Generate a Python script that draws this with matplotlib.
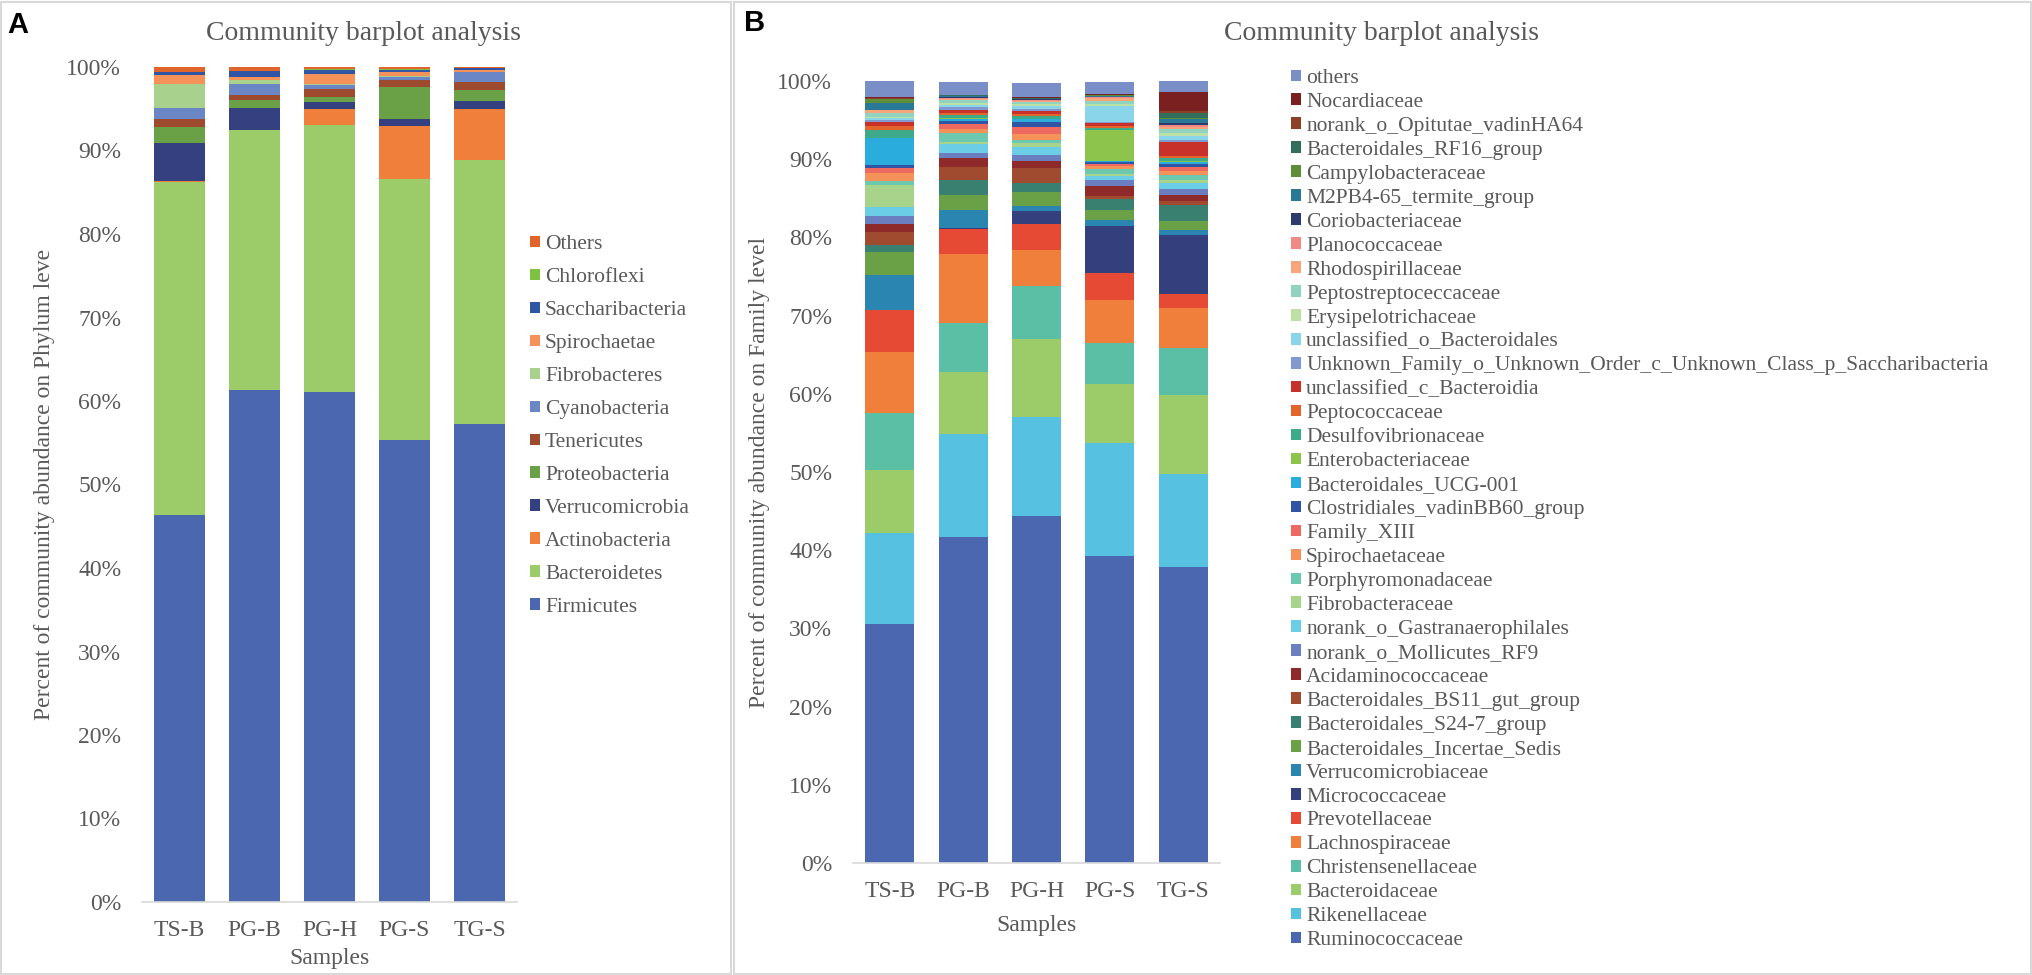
import matplotlib
matplotlib.use("Agg")
import matplotlib.pyplot as plt
import numpy as np
from matplotlib.patches import Patch, Rectangle

plt.rcParams["font.family"] = ["Liberation Serif", "DejaVu Serif"]

samples = ["TS-B", "PG-B", "PG-H", "PG-S", "TG-S"]

# ---- panel A: phylum level (bottom -> top) ----
phyla = ["Firmicutes", "Bacteroidetes", "Actinobacteria", "Verrucomicrobia",
         "Proteobacteria", "Tenericutes", "Cyanobacteria", "Fibrobacteres",
         "Spirochaetae", "Saccharibacteria", "Chloroflexi", "Others"]
phyla_colors = ["#4A67AF", "#9CCB6A", "#F07F3C", "#344080", "#6AA046", "#9E4A2E",
                "#6A86C4", "#A9D18E", "#F4925A", "#2F55A4", "#7DC242", "#E0652B"]

ts_b_phylum = [46.3, 39.9, 0.1, 4.6, 1.9, 1.0, 1.3, 2.9, 1.1, 0.3, 0.05, 0.6]
pg_b_phylum = [61.3, 31.1, 0.1, 2.6, 0.9, 0.7, 1.3, 0.4, 0.4, 0.7, 0.05, 0.45]
pg_h_phylum = [61.1, 31.9, 2.0, 0.75, 0.65, 1.0, 0.5, 0.1, 1.2, 0.4, 0.15, 0.25]
pg_s_phylum = [55.3, 31.3, 6.3, 0.85, 3.9, 0.8, 0.4, 0.1, 0.4, 0.35, 0.05, 0.25]
tg_s_phylum = [57.3, 31.6, 6.1, 0.9, 1.3, 1.0, 1.2, 0.05, 0.25, 0.15, 0.05, 0.1]

# ---- panel B: family level (bottom -> top) ----
families = ["Ruminococcaceae", "Rikenellaceae", "Bacteroidaceae", "Christensenellaceae",
            "Lachnospiraceae", "Prevotellaceae", "Micrococcaceae", "Verrucomicrobiaceae",
            "Bacteroidales_Incertae_Sedis", "Bacteroidales_S24-7_group",
            "Bacteroidales_BS11_gut_group", "Acidaminococcaceae", "norank_o_Mollicutes_RF9",
            "norank_o_Gastranaerophilales", "Fibrobacteraceae", "Porphyromonadaceae",
            "Spirochaetaceae", "Family_XIII", "Clostridiales_vadinBB60_group",
            "Bacteroidales_UCG-001", "Enterobacteriaceae", "Desulfovibrionaceae",
            "Peptococcaceae", "unclassified_c_Bacteroidia",
            "Unknown_Family_o_Unknown_Order_c_Unknown_Class_p_Saccharibacteria",
            "unclassified_o_Bacteroidales", "Erysipelotrichaceae", "Peptostreptoceccaceae",
            "Rhodospirillaceae", "Planococcaceae", "Coriobacteriaceae",
            "M2PB4-65_termite_group", "Campylobacteraceae", "Bacteroidales_RF16_group",
            "norank_o_Opitutae_vadinHA64", "Nocardiaceae", "others"]
family_colors = ["#4A67AF", "#56C1E1", "#9CCB6A", "#5BBFA5", "#F07F3C", "#E64A35",
                 "#343F7E", "#2A86B0", "#6AA046", "#3A8070", "#A04A30", "#8E2A2A",
                 "#6A7EC0", "#6CCDE6", "#A8D38A", "#6DC8B0", "#F4925A", "#EE6A60",
                 "#3055A5", "#2AACDD", "#8CC44C", "#3DAA8A", "#E3652B", "#C8302A",
                 "#8099D0", "#8AD5EA", "#BDE0A5", "#8FD3C0", "#F7A57A", "#F08A84",
                 "#2E3A6E", "#2A7898", "#5E8E3A", "#316E5C", "#8C4028", "#7A2020",
                 "#7A8FC8"]

ts_b_family = [30.6, 11.6, 8.0, 7.3, 7.8, 5.4, 0.05, 4.4, 3.0, 0.85, 1.7, 1.05, 1.05,
               1.15, 2.8, 0.5, 1.0, 0.6, 0.4, 3.4, 0.1, 0.95, 0.5, 0.5, 0.25, 0.35,
               0.1, 0.5, 0.35, 0.05, 0.05, 0.85, 0.5, 0.05, 0.1, 0.1, 2.05]
pg_b_family = [41.7, 13.1, 8.0, 6.2, 8.9, 3.2, 0.05, 2.4, 1.9, 1.9, 1.7, 1.1, 0.7,
               1.1, 0.3, 1.1, 0.5, 0.6, 0.4, 0.3, 0.1, 0.4, 0.3, 0.3, 0.4, 0.3,
               0.3, 0.3, 0.2, 0.1, 0.1, 0.1, 0.05, 0.05, 0.05, 0.05, 1.6]
pg_h_family = [44.4, 12.6, 10.0, 6.8, 4.6, 3.3, 1.7, 0.6, 1.8, 1.2, 1.9, 0.9, 0.8,
               1.0, 0.5, 0.4, 0.7, 0.9, 0.7, 0.3, 0.1, 0.3, 0.3, 0.3, 0.3, 0.4,
               0.2, 0.3, 0.2, 0.1, 0.05, 0.05, 0.05, 0.05, 0.05, 0.05, 1.8]
pg_s_family = [39.3, 14.4, 7.5, 5.3, 5.5, 3.4, 6.0, 0.8, 1.3, 1.4, 0.4, 1.3, 0.7,
               0.5, 0.3, 0.6, 0.4, 0.3, 0.2, 0.2, 3.9, 0.3, 0.3, 0.3, 0.2, 2.0,
               0.3, 0.4, 0.3, 0.1, 0.1, 0.1, 0.05, 0.05, 0.05, 0.05, 1.6]
tg_s_family = [37.8, 12.0, 10.0, 6.1, 5.1, 1.7, 7.6, 0.6, 1.2, 2.0, 0.6, 0.7, 0.8,
               0.8, 0.4, 0.6, 0.5, 0.5, 0.4, 0.2, 0.2, 0.3, 0.3, 1.8, 0.3, 0.5,
               0.4, 0.4, 0.3, 0.3, 0.2, 0.5, 0.2, 0.6, 0.3, 2.4, 1.4]

TEXT = "#595959"
GRID = "#D9D9D9"
W, H = 2033, 975


def stacked(ax, data, names, colors):
    data = np.array(data, dtype=float).T  # rows = taxa
    x = np.arange(len(samples))
    bottom = np.zeros(len(samples))
    handles = []
    for vals, name, col in zip(data, names, colors):
        ax.bar(x, vals, bottom=bottom, width=0.667, color=col, linewidth=0)
        bottom += vals
        handles.append(Patch(facecolor=col, label=name))
    ax.set_xlim(-0.5, 4.5)
    ax.set_ylim(0, 100)
    ax.set_xticks(x)
    ax.set_xticklabels(samples)
    ax.set_yticks(np.arange(0, 101, 10))
    ax.set_yticklabels([f"{v}%" for v in range(0, 101, 10)])
    for s in ["top", "right", "left"]:
        ax.spines[s].set_visible(False)
    ax.spines["bottom"].set_color(GRID)
    ax.spines["bottom"].set_linewidth(1.2)
    ax.tick_params(axis="both", length=0, labelsize=17, colors=TEXT)
    ax.tick_params(axis="y", pad=15)
    ax.tick_params(axis="x", pad=13)
    return handles[::-1]


fig = plt.figure(figsize=(W / 100, H / 100), dpi=100)

# panel frames
fig.add_artist(Rectangle((1 / W, 1 / H), 730 / W, 972 / H, transform=fig.transFigure,
                         fill=False, edgecolor=GRID, linewidth=1.5))
fig.add_artist(Rectangle((734 / W, 1 / H), 1297 / W, 972 / H, transform=fig.transFigure,
                         fill=False, edgecolor=GRID, linewidth=1.5))

# ---- panel A ----
axA = fig.add_axes([142 / W, 73 / H, 375 / W, 835 / H])
hA = stacked(axA, [ts_b_phylum, pg_b_phylum, pg_h_phylum, pg_s_phylum, tg_s_phylum],
             phyla, phyla_colors)
axA.set_xlabel("Samples", fontsize=17, color=TEXT)
axA.xaxis.set_label_coords(0.5, -0.055)
axA.set_ylabel("Percent of community abundance on Phylum leve", fontsize=17, color=TEXT)
axA.yaxis.set_label_coords(-0.232, 0.5)
fig.legend(handles=hA, loc="upper left", bbox_to_anchor=(530 / W, 1 - 235 / H),
           frameon=False, fontsize=15.5, labelcolor=TEXT, borderpad=0, borderaxespad=0,
           handlelength=0.45, handleheight=0.45, handletextpad=0.25, labelspacing=0.65)
fig.text(364 / W, 1 - 33 / H, "Community barplot analysis", fontsize=20, color=TEXT,
         ha="center", va="center")
fig.text(7 / W, 1 - 25 / H, "A", fontsize=21, fontweight="bold", ha="left", va="center",
         family=["Liberation Sans", "DejaVu Sans"])

# ---- panel B ----
axB = fig.add_axes([853 / W, 112 / H, 367 / W, 782 / H])
hB = stacked(axB, [ts_b_family, pg_b_family, pg_h_family, pg_s_family, tg_s_family],
             families, family_colors)
axB.set_xlabel("Samples", fontsize=17, color=TEXT)
axB.xaxis.set_label_coords(0.5, -0.066)
axB.set_ylabel("Percent of community abundance on Family level", fontsize=17, color=TEXT)
axB.yaxis.set_label_coords(-0.226, 0.5)
fig.legend(handles=hB, loc="upper left", bbox_to_anchor=(1291 / W, 1 - 69 / H),
           frameon=False, fontsize=15.5, labelcolor=TEXT, borderpad=0, borderaxespad=0,
           handlelength=0.45, handleheight=0.45, handletextpad=0.25, labelspacing=0.23)
fig.text(1382 / W, 1 - 34 / H, "Community barplot analysis", fontsize=20, color=TEXT,
         ha="center", va="center")
fig.text(744 / W, 1 - 23 / H, "B", fontsize=21, fontweight="bold", ha="left", va="center",
         family=["Liberation Sans", "DejaVu Sans"])

fig.savefig("out.png", dpi=100)
